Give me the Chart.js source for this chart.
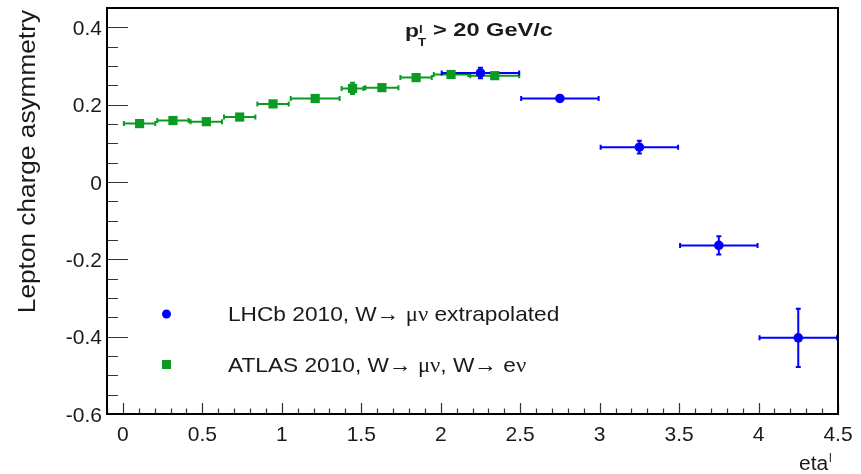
<!DOCTYPE html>
<html>
<head>
<meta charset="utf-8">
<script src="https://cdn.jsdelivr.net/npm/chart.js@4"></script>
<style>
  html, body { margin: 0; padding: 0; background: #fff; }
</style>
</head>
<body>
<canvas id="grafico" width="861" height="474"></canvas>
<script>
// LHCb 2010, W -> mu nu extrapolated
const lhcbEta = [2.25, 2.75, 3.25, 3.75, 4.25];
const lhcbEtaLo = [2.0, 2.5, 3.0, 3.5, 4.0];
const lhcbEtaHi = [2.5, 3.0, 3.5, 4.0, 4.5];
const lhcbAsym = [0.282, 0.216, 0.090, -0.164, -0.403];
const lhcbErr = [0.016, 0.010, 0.019, 0.026, 0.078];

// ATLAS 2010, W -> mu nu, W -> e nu
const atlasEta = [0.105, 0.315, 0.525, 0.735, 0.945, 1.21, 1.445, 1.63, 1.845, 2.065, 2.34];
const atlasEtaLo = [0.0, 0.21, 0.42, 0.63, 0.84, 1.05, 1.37, 1.52, 1.74, 1.95, 2.18];
const atlasEtaHi = [0.21, 0.42, 0.63, 0.84, 1.05, 1.37, 1.52, 1.74, 1.95, 2.18, 2.5];
const atlasAsym = [0.151, 0.159, 0.156, 0.168, 0.202, 0.216, 0.242, 0.244, 0.270, 0.278, 0.275];
const atlasErr = [0.008, 0.005, 0.005, 0.008, 0.008, 0.005, 0.017, 0.005, 0.005, 0.005, 0.005];

// ejes
const xTicks = [0, 0.5, 1, 1.5, 2, 2.5, 3, 3.5, 4, 4.5];
const yTicks = [-0.6, -0.4, -0.2, 0, 0.2, 0.4];
const xMin = -0.1, xMax = 4.5;
const yMin = -0.6, yMax = 0.45;

const azul = "#0000ff";
const verde = "#0b9b22";
const texto = "#1a1a1a";
const sans = "'Liberation Sans', Arial, sans-serif";
const serif = "'Liberation Serif', 'Times New Roman', serif";

function fmt(v) {
  return String(Math.round(v * 10) / 10);
}

// texto en trozos (sans / serif), estirado en horizontal
function trozos(ctx, partes, x, y, size, sx) {
  ctx.save();
  ctx.translate(x, y);
  ctx.scale(sx, 1);
  ctx.fillStyle = texto;
  ctx.textBaseline = "alphabetic";
  let cx = 0;
  partes.forEach(([s, fam, peso]) => {
    ctx.font = (peso || "") + " " + size + "px " + fam;
    ctx.fillText(s, cx, 0);
    cx += ctx.measureText(s).width;
  });
  ctx.restore();
}

const barrasError = {
  id: "barrasError",
  beforeDatasetsDraw(chart) {
    const { ctx, chartArea: a, scales: { x, y } } = chart;
    const series = [
      { eta: atlasEta, lo: atlasEtaLo, hi: atlasEtaHi, v: atlasAsym, e: atlasErr, c: verde },
      { eta: lhcbEta, lo: lhcbEtaLo, hi: lhcbEtaHi, v: lhcbAsym, e: lhcbErr, c: azul }
    ];
    ctx.save();
    ctx.beginPath();
    ctx.rect(a.left, a.top, a.width, a.height);
    ctx.clip();
    ctx.lineWidth = 2;
    series.forEach((s) => {
      ctx.strokeStyle = s.c;
      ctx.beginPath();
      s.eta.forEach((eta, i) => {
        const px = x.getPixelForValue(eta);
        const py = y.getPixelForValue(s.v[i]);
        const x0 = x.getPixelForValue(s.lo[i]);
        const x1 = x.getPixelForValue(s.hi[i]);
        const y0 = y.getPixelForValue(s.v[i] - s.e[i]);
        const y1 = y.getPixelForValue(s.v[i] + s.e[i]);
        ctx.moveTo(x0, py); ctx.lineTo(x1, py);
        ctx.moveTo(x0 + 1, py - 2.5); ctx.lineTo(x0 + 1, py + 2.5);
        ctx.moveTo(x1 - 1, py - 2.5); ctx.lineTo(x1 - 1, py + 2.5);
        ctx.moveTo(px, y0); ctx.lineTo(px, y1);
        ctx.moveTo(px - 2.5, y0 - 1); ctx.lineTo(px + 2.5, y0 - 1);
        ctx.moveTo(px - 2.5, y1 + 1); ctx.lineTo(px + 2.5, y1 + 1);
      });
      ctx.stroke();
    });
    ctx.restore();
  }
};

const marco = {
  id: "marco",
  afterDatasetsDraw(chart) {
    const { ctx, chartArea: a, scales: { x, y } } = chart;
    ctx.save();
    // ticks menores y mayores, hacia dentro
    ctx.strokeStyle = "#333";
    ctx.lineWidth = 1.2;
    ctx.beginPath();
    for (let i = 0; i <= 21; i++) {
      const v = yMin + i * 0.05;
      const py = Math.round(y.getPixelForValue(v)) + 0.5;
      const mayor = i % 4 === 0;
      ctx.moveTo(a.left, py);
      ctx.lineTo(a.left + (mayor ? 21 : 11), py);
    }
    for (let i = 0; i <= 46; i++) {
      const v = xMin + i * 0.1;
      const px = Math.round(x.getPixelForValue(v)) + 0.5;
      const mayor = (i - 1) % 5 === 0;
      ctx.moveTo(px, a.bottom);
      ctx.lineTo(px, a.bottom - (mayor ? 11 : 5.5));
    }
    ctx.stroke();
    ctx.strokeStyle = "#000";
    ctx.lineWidth = 2;
    ctx.strokeRect(a.left, a.top, a.width, a.height);
    ctx.restore();
  },
  afterDraw(chart) {
    const { ctx } = chart;
    // título
    trozos(ctx, [["p", sans, "bold"]], 405, 37, 19, 1.2);
    trozos(ctx, [["l", sans, "bold"]], 419, 33, 11, 1.2);
    trozos(ctx, [["T", sans, "bold"]], 418, 46, 11, 1.2);
    trozos(ctx, [["> 20 GeV/c", sans, "bold"]], 433, 36, 18, 1.31);

    // título eje y
    ctx.save();
    ctx.translate(35, 10);
    ctx.rotate(-Math.PI / 2);
    ctx.scale(1.14, 1);
    ctx.font = "23px " + sans;
    ctx.fillStyle = texto;
    ctx.textAlign = "right";
    ctx.fillText("Lepton charge asymmetry", 0, 0);
    ctx.restore();

    // título eje x
    trozos(ctx, [["eta", sans]], 799, 470, 20, 1.05);
    trozos(ctx, [["l", sans]], 829, 462, 12, 1.0);

    // leyenda
    ctx.save();
    ctx.fillStyle = azul;
    ctx.beginPath();
    ctx.arc(166.5, 314, 4.5, 0, Math.PI * 2);
    ctx.fill();
    ctx.fillStyle = verde;
    ctx.fillRect(162, 360, 9, 9);
    ctx.restore();
    trozos(ctx, [["LHCb 2010, W\u2192 ", sans], ["\u03bc\u03bd", serif], [" extrapolated", sans]], 228, 321, 21, 1.08);
    trozos(ctx, [["ATLAS 2010, W\u2192 ", sans], ["\u03bc\u03bd", serif], [", W\u2192 e", sans], ["\u03bd", serif]], 228, 372, 21, 1.08);
  }
};

const ctx = document.getElementById("grafico").getContext("2d");
new Chart(ctx, {
  type: "scatter",
  data: {
    datasets: [
      {
        label: "ATLAS 2010",
        data: atlasEta.map((e, i) => ({ x: e, y: atlasAsym[i] })),
        backgroundColor: verde,
        borderColor: verde,
        pointStyle: "rect",
        pointRadius: 6.5,
        pointBorderWidth: 0
      },
      {
        label: "LHCb 2010",
        data: lhcbEta.map((e, i) => ({ x: e, y: lhcbAsym[i] })),
        backgroundColor: azul,
        borderColor: azul,
        pointStyle: "circle",
        pointRadius: 4.8,
        pointBorderWidth: 0
      }
    ]
  },
  options: {
    responsive: false,
    animation: false,
    layout: { padding: { top: 8, right: 23, left: 0, bottom: 0 } },
    plugins: {
      legend: { display: false },
      tooltip: { enabled: false }
    },
    scales: {
      x: {
        type: "linear",
        min: xMin,
        max: xMax,
        grid: { display: false, drawTicks: false },
        border: { display: false },
        afterBuildTicks: (s) => { s.ticks = xTicks.map((v) => ({ value: v })); },
        afterFit: (s) => {
          s.height = 60;
          s.paddingLeft = 0;
          s.paddingRight = 0;
        },
        ticks: {
          padding: 9,
          color: texto,
          autoSkip: false,
          maxRotation: 0,
          font: { family: sans, size: 21 },
          callback: (v) => fmt(v)
        }
      },
      y: {
        type: "linear",
        min: yMin,
        max: yMax,
        grid: { display: false, drawTicks: false },
        border: { display: false },
        afterBuildTicks: (s) => { s.ticks = yTicks.map((v) => ({ value: v })); },
        afterFit: (s) => {
          s.width = 107;
          s.paddingTop = 0;
          s.paddingBottom = 0;
        },
        ticks: {
          padding: 5,
          labelOffset: 2,
          color: texto,
          autoSkip: false,
          font: { family: sans, size: 21 },
          callback: (v) => fmt(v)
        }
      }
    }
  },
  plugins: [barrasError, marco]
});
</script>
</body>
</html>
